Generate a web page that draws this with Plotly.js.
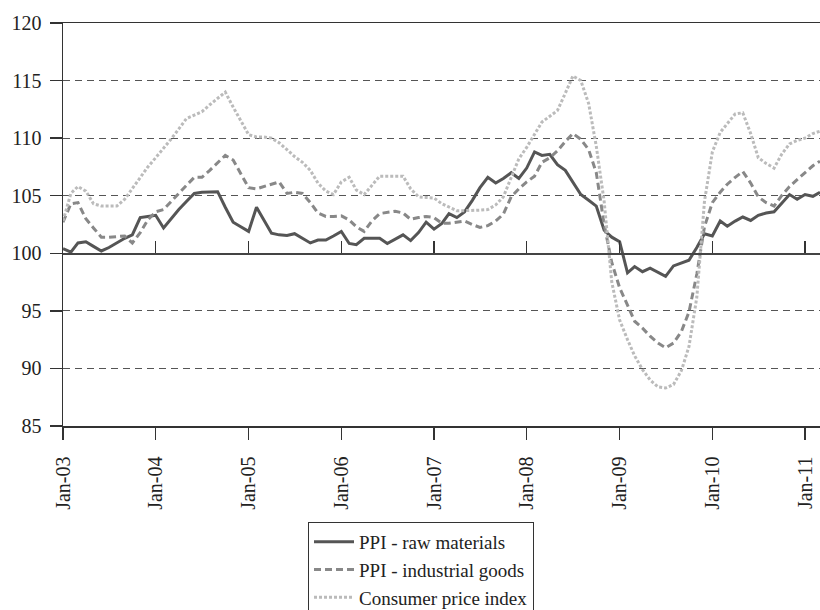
<!DOCTYPE html>
<html>
<head>
<meta charset="utf-8">
<script src="https://cdn.plot.ly/plotly-3.0.1.min.js"></script>
<style>html,body{margin:0;padding:0;background:#fff;}#chart{width:820px;height:610px;}</style>
</head>
<body>
<div id="chart"></div>
<script>
// Monthly observations, Jan 2003 .. Mar 2011
var startYear = 2003, startMonth = 1, monthCount = 99;
var seriesNames = ["PPI - raw materials", "PPI - industrial goods", "Consumer price index"];

var rawMaterials = [
  100.4, 100.1, 100.9, 101.0, 100.6, 100.2, 100.5, 100.9, 101.3, 101.6, 103.1, 103.2,
  103.3, 102.2, 103.0, 103.8, 104.5, 105.2, 105.3, 105.3, 105.35, 104.0, 102.7, 102.3,
  101.9, 104.0, 102.9, 101.75, 101.6, 101.55, 101.7, 101.3, 100.9, 101.15, 101.15, 101.5,
  101.9, 100.85, 100.75, 101.3, 101.3, 101.3, 100.85, 101.2, 101.6, 101.1, 101.8, 102.7,
  102.1, 102.6, 103.45, 103.1, 103.6, 104.6, 105.7, 106.6, 106.1, 106.5, 107.0, 106.5,
  107.4, 108.8, 108.5, 108.6, 107.7, 107.2, 106.2, 105.1, 104.6, 104.1, 102.0, 101.4,
  101.0, 98.3, 98.85, 98.4, 98.7, 98.35, 98.0, 98.9, 99.15, 99.4, 100.5, 101.7,
  101.5, 102.8, 102.35, 102.8, 103.15, 102.85, 103.3, 103.5, 103.6, 104.3, 105.1, 104.7,
  105.1, 104.95, 105.3
];
var industrialGoods = [
  102.7, 104.3, 104.4, 103.0, 102.2, 101.4, 101.4, 101.45, 101.5, 100.9, 101.8, 102.9,
  103.6, 103.8, 104.5, 105.2, 105.9, 106.6, 106.6, 107.2, 107.9, 108.5, 108.1, 106.9,
  105.7, 105.6, 105.8, 106.0, 106.2, 105.2, 105.3, 105.2, 104.4, 103.5, 103.2, 103.2,
  103.25, 102.9, 102.3, 101.9, 102.8, 103.45, 103.55, 103.65, 103.5, 102.95, 103.1, 103.2,
  103.1, 102.6, 102.6, 102.7, 102.8, 102.5, 102.25, 102.4, 102.8, 103.4, 104.9, 105.6,
  106.2, 106.7, 107.9, 108.3, 108.9, 109.7, 110.4, 109.9, 109.0, 107.0, 102.5, 99.2,
  97.0, 95.5, 94.1, 93.5, 92.8, 92.2, 91.8, 92.2, 93.2, 94.9, 98.2, 102.3,
  104.4, 105.3, 106.0, 106.6, 107.1, 106.1, 104.9, 104.4, 104.1, 105.0, 105.8, 106.4,
  107.0, 107.6, 108.0
];
var consumerPrices = [
  102.8, 105.2, 105.8, 105.4, 104.3, 104.1, 104.1, 104.1, 104.7, 105.6, 106.6, 107.5,
  108.3, 109.1, 109.9, 110.8, 111.7, 112.0, 112.3, 112.9, 113.5, 114.0, 112.7, 111.5,
  110.3, 110.1, 110.1, 110.0, 109.6, 109.0, 108.4, 107.9, 107.2, 106.1, 105.4, 105.1,
  106.2, 106.6, 105.5, 105.1, 105.9, 106.7, 106.7, 106.7, 106.7, 105.6, 104.9, 104.85,
  104.8, 104.3, 104.0, 103.7, 103.7, 103.7, 103.75, 103.8, 104.2, 104.9, 106.6, 108.2,
  109.2, 110.3, 111.4, 111.9, 112.4, 113.9, 115.4, 115.0, 113.0, 109.3, 104.5, 97.5,
  94.2, 92.5, 91.1, 89.9, 89.0, 88.4, 88.3, 88.6, 89.8, 91.9, 96.2, 104.5,
  108.8, 110.5, 111.3, 112.1, 112.2, 110.4, 108.3, 107.8, 107.4, 108.6, 109.5, 109.8,
  110.0, 110.4, 110.6
];
var yTicks = [85, 90, 95, 100, 105, 110, 115, 120];

function monthDates(y0, m0, n) {
  var out = [];
  for (var i = 0; i < n; i++) {
    var t = (m0 - 1) + i;
    var yy = y0 + Math.floor(t / 12);
    var mm = (t % 12) + 1;
    out.push(yy + "-" + (mm < 10 ? "0" : "") + mm + "-01");
  }
  return out;
}
var dates = monthDates(startYear, startMonth, monthCount);

var serif = "Liberation Serif, Times New Roman, serif";

var traces = [
  {x: dates, y: rawMaterials, name: seriesNames[0], mode: "lines",
   line: {color: "#555555", width: 3}},
  {x: dates, y: industrialGoods, name: seriesNames[1], mode: "lines",
   line: {color: "#888888", width: 3, dash: "7px,4px"}},
  {x: dates, y: consumerPrices, name: seriesNames[2], mode: "lines",
   line: {color: "#bbbbbb", width: 3, dash: "3px,2px"}},
  {x: dates, y: rawMaterials, xaxis: "x2", yaxis: "y", mode: "lines",
   line: {width: 0}, opacity: 0, showlegend: false, hoverinfo: "skip"}
];

var layout = {
  width: 820, height: 610,
  margin: {l: 63, r: 0, t: 23, b: 184, autoexpand: false},
  paper_bgcolor: "#ffffff", plot_bgcolor: "#ffffff",
  font: {family: serif, size: 20, color: "#222"},
  showlegend: true,
  legend: {
    xref: "container", yref: "container",
    x: 308 / 820, xanchor: "left", y: 1 - 522 / 610, yanchor: "top",
    bordercolor: "#333", borderwidth: 1, bgcolor: "#fff",
    font: {family: serif, size: 19, color: "#222"},
    itemwidth: 40,
    tracegroupgap: 0
  },
  xaxis: {
    type: "date",
    range: ["2003-01-01", "2011-03-01"],
    tick0: "2003-01-01", dtick: "M12", tickformat: "%b-%y",
    tickangle: -90,
    ticks: "outside", ticklen: 12, tickcolor: "#333", tickwidth: 1.3,
    ticklabelstandoff: 9,
    showline: true, linecolor: "#333", linewidth: 1.5, mirror: true,
    showgrid: false, zeroline: false,
    tickfont: {family: serif, size: 20, color: "#222"}
  },
  xaxis2: {
    type: "date", overlaying: "x", matches: "x",
    anchor: "free", position: (100 - 85) / (120 - 85), side: "bottom",
    tick0: "2003-01-01", dtick: "M12",
    ticks: "inside", ticklen: 12, tickcolor: "#333", tickwidth: 1.3,
    showline: true, linecolor: "#444", linewidth: 1.5,
    showticklabels: false, showgrid: false, zeroline: false
  },
  yaxis: {
    range: [85, 120],
    tickvals: yTicks,
    ticks: "outside", ticklen: 12, tickcolor: "#333", tickwidth: 1.3,
    ticklabelstandoff: 4,
    showline: true, linecolor: "#333", linewidth: 1.5,
    showgrid: true, gridcolor: "#555", gridwidth: 1, griddash: "7px,5px",
    zeroline: false,
    tickfont: {family: serif, size: 20, color: "#222"}
  }
};

Plotly.newPlot("chart", traces, layout, {displayModeBar: false, staticPlot: true});
</script>
</body>
</html>
